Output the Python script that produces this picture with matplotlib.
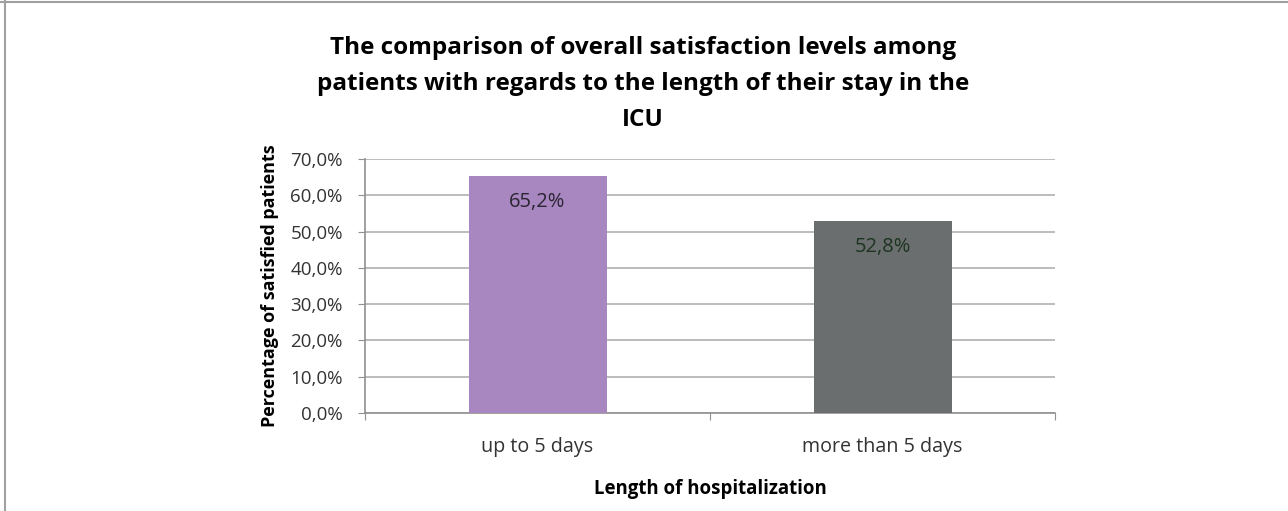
import matplotlib.pyplot as plt
from matplotlib.lines import Line2D
from matplotlib.ticker import FuncFormatter, MultipleLocator

plt.rcParams['font.family'] = ['Open Sans', 'DejaVu Sans']

# Data
categories = ['up to 5 days', 'more than 5 days']
satisfied_pct = [65.2, 52.8]
bar_colors = ['#a886c0', '#6b6e6e']
label_colors = ['#2a2432', '#1c3420']

fig = plt.figure(figsize=(12.88, 5.11), dpi=100)
ax = fig.add_axes([365 / 1288, 1 - 413 / 511, 690 / 1288, 254 / 511])

x = range(len(categories))
bars = ax.bar(x, satisfied_pct, width=0.4, color=bar_colors, zorder=3)

for b, v, c in zip(bars, satisfied_pct, label_colors):
    ax.annotate(f'{v:.1f}%'.replace('.', ','),
                (b.get_x() + b.get_width() / 2, v),
                xytext=(0, -26), textcoords='offset pixels',
                ha='center', va='center', fontsize=14.5, color=c, zorder=4)

ax.set_xlim(-0.5, 1.5)
ax.set_ylim(0, 70)
ax.yaxis.set_major_locator(MultipleLocator(10))
ax.yaxis.set_major_formatter(FuncFormatter(lambda v, p: f'{v:.1f}%'.replace('.', ',')))
ax.grid(axis='y', color='#b0b0b0', linewidth=1.2, zorder=0)

# category boundary ticks on x axis, labels centred under bars
ax.set_xticks([-0.5, 0.5, 1.5], minor=False)
ax.set_xticklabels([])
ax.set_xticks(list(x), minor=True)
ax.set_xticklabels(categories, minor=True)
ax.tick_params(axis='x', which='minor', length=0, pad=17, labelsize=14.2, labelcolor='#333333')
ax.tick_params(axis='x', which='major', length=5, color='#909090', direction='out')
ax.tick_params(axis='y', length=5, color='#909090', labelsize=13.5, labelcolor='#333333', pad=11)

for s in ['top', 'right']:
    ax.spines[s].set_visible(False)
for s in ['left', 'bottom']:
    ax.spines[s].set_color('#909090')
    ax.spines[s].set_linewidth(1.2)

ax.set_xlabel('Length of hospitalization', fontsize=13.4, fontweight='bold', labelpad=16)
ax.set_ylabel('Percentage of satisfied patients', fontsize=13, fontweight='bold', labelpad=8)

fig.text(0.499, 0.93,
         'The comparison of overall satisfaction levels among\n'
         'patients with regards to the length of their stay in the\nICU',
         ha='center', va='top', fontsize=17.5, fontweight='bold', linespacing=1.66)

# outer frame (top and left edges)
fig.add_artist(Line2D([0, 1], [0.997, 0.997], color='#a0a0a0', linewidth=1.5, transform=fig.transFigure))
fig.add_artist(Line2D([0.004, 0.004], [0, 1], color='#a0a0a0', linewidth=1.5, transform=fig.transFigure))

fig.savefig('out.png', dpi=100)
